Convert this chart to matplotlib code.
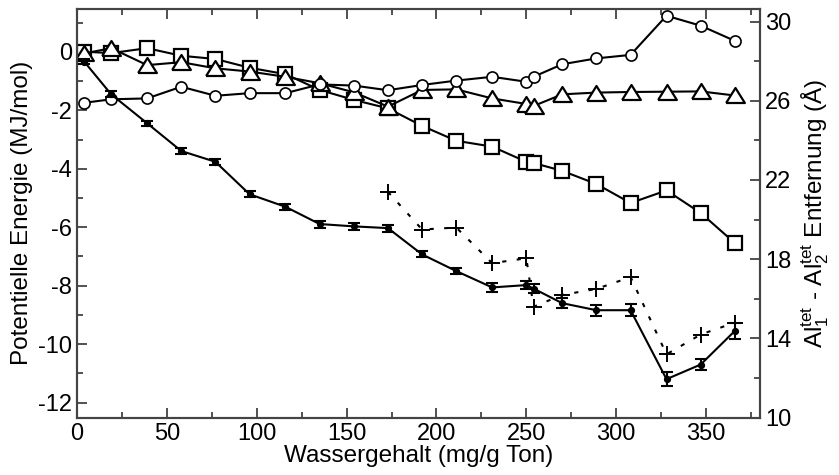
import matplotlib
matplotlib.use("Agg")
import matplotlib.pyplot as plt
from matplotlib.ticker import MultipleLocator

plt.rcParams['font.family'] = ['Liberation Sans', 'DejaVu Sans']
plt.rcParams['mathtext.fontset'] = 'custom'
plt.rcParams['mathtext.rm'] = 'Liberation Sans'
plt.rcParams['mathtext.it'] = 'Liberation Sans'
plt.rcParams['axes.unicode_minus'] = False

# Wassergehalt (mg/g Ton)
x = [4, 19, 39, 58, 77, 96, 116, 135, 154, 173, 192, 211, 231, 250, 254,
     270, 289, 308, 328, 347, 366]

# potentielle Energie (MJ/mol), mit Fehlerbalken
energie = [-0.33, -1.45, -2.44, -3.39, -3.76, -4.87, -5.30, -5.89, -5.97, -6.03,
           -6.93, -7.50, -8.06, -7.98, -8.10, -8.60, -8.84, -8.84, -11.20, -10.70, -9.55]
energie_err = [0.08, 0.1, 0.08, 0.1, 0.1, 0.1, 0.1, 0.12, 0.12, 0.12,
               0.1, 0.1, 0.14, 0.15, 0.15, 0.18, 0.19, 0.2, 0.23, 0.2, 0.28]

# Energieanteile (offene Symbole)
quadrate = [0.01, -0.04, 0.13, -0.13, -0.24, -0.54, -0.76, -1.30, -1.64, -1.93,
            -2.53, -3.04, -3.24, -3.76, -3.80, -4.07, -4.52, -5.17, -4.74, -5.51, -6.54]
dreiecke = [-0.05, 0.13, -0.45, -0.35, -0.56, -0.67, -0.85, -1.07, -1.38, -1.87,
            -1.30, -1.28, -1.59, -1.78, -1.85, -1.45, -1.39, -1.37, -1.36, -1.35, -1.49]
kreise = [-1.74, -1.62, -1.59, -1.19, -1.50, -1.41, -1.41, -1.11, -1.15, -1.31,
          -1.13, -0.98, -0.85, -1.02, -0.85, -0.42, -0.22, -0.10, 1.24, 0.90, 0.38]

# Al1-Al2 Abstand (Angstrom), rechte Achse
x_abstand = [173, 192, 211, 231, 250, 254, 270, 289, 308, 328, 347, 366]
abstand = [21.4, 19.5, 19.6, 17.8, 18.05, 15.6, 16.2, 16.5, 17.1, 13.2, 14.2, 14.8]

# flaches Dreieck wie im Original
dreieck = [(-1, -0.8), (1, -0.8), (0, 0.8), (-1, -0.8)]

fig = plt.figure(figsize=(8.39, 4.75), dpi=100)
ax = fig.add_axes([0.0918, 0.1206, 0.8140, 0.8604])
ax2 = ax.twinx()

lw = 1.5
ax.plot(x, quadrate, color='black', lw=lw, marker='s', ms=10,
        mfc='white', mec='black', mew=1.6, zorder=3)
ax.plot(x, dreiecke, color='black', lw=lw, marker=dreieck, ms=13.5,
        mfc='white', mec='black', mew=1.6, zorder=3)
ax.plot(x, kreise, color='black', lw=lw, marker='o', ms=8,
        mfc='white', mec='black', mew=1.2, zorder=3)
ax.errorbar(x, energie, yerr=energie_err, color='black', lw=lw, marker='o',
            ms=4.2, capsize=4.3, capthick=1.5, elinewidth=1.5, zorder=4)

ax2.plot(x_abstand, abstand, color='black', lw=1.5, ls=(0, (2, 5)),
         marker='+', ms=11, mew=1.4)

ax.set_xlim(0, 380)
ax.set_ylim(-12.52, 1.47)
ax2.set_ylim(10, 30.63)

ax.xaxis.set_major_locator(MultipleLocator(50))
ax.xaxis.set_minor_locator(MultipleLocator(25))
ax.yaxis.set_major_locator(MultipleLocator(2))
ax.yaxis.set_minor_locator(MultipleLocator(1))
ax2.yaxis.set_major_locator(MultipleLocator(4, offset=2))
ax2.yaxis.set_minor_locator(MultipleLocator(2))

fs = 17
ax.tick_params(axis='both', which='both', direction='in', top=True,
               labelsize=fs, width=1.2, color='#333333')
ax.tick_params(which='major', length=7)
ax.tick_params(which='minor', length=4)
ax2.tick_params(axis='y', which='both', direction='in', labelsize=fs,
                width=1.2, color='#333333')
ax2.tick_params(which='major', length=7)
ax2.tick_params(which='minor', length=4)

for a in (ax, ax2):
    for s in a.spines.values():
        s.set_color('#444444')
        s.set_linewidth(1.5)

ax.set_xlabel('Wassergehalt (mg/g Ton)', fontsize=17.5, labelpad=0)
ax.set_ylabel('Potentielle Energie (MJ/mol)', fontsize=17.5, labelpad=4)
ax2.set_ylabel(r'Al$_1^{\mathrm{tet}}$ - Al$_2^{\mathrm{tet}}$ Entfernung (Å)',
               fontsize=17.5, labelpad=6)

fig.savefig('out.png', dpi=100)
